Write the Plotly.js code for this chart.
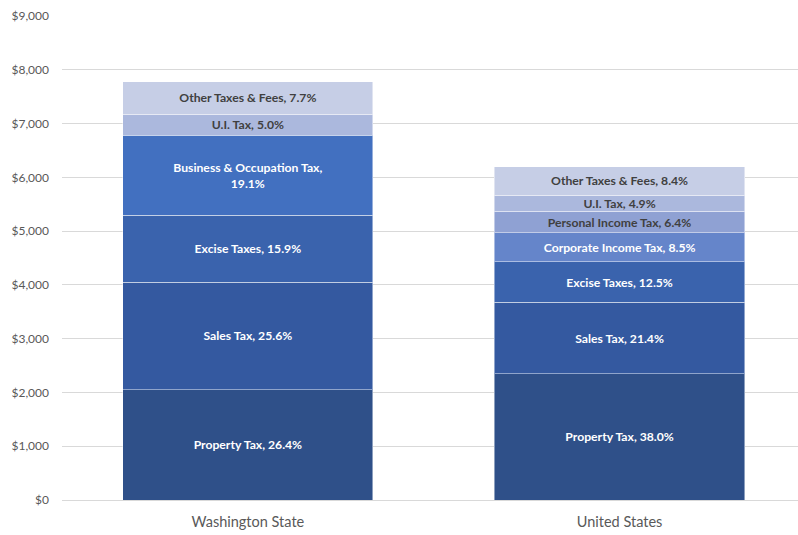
<!DOCTYPE html>
<html><head><meta charset="utf-8">
<script src="https://cdn.plot.ly/plotly-3.0.1.min.js"></script>
<style>html,body{margin:0;padding:0;background:#fff}#chart{width:798px;height:535px}</style>
</head><body><div id="chart"></div>
<script>
const categories = ["Washington State", "United States"];
const seriesNames = ["Property Tax", "Sales Tax", "Excise Taxes", "Business & Occupation Tax", "Corporate Income Tax", "Personal Income Tax", "U.I. Tax", "Other Taxes & Fees"];
const propertyTax = [2050, 2345];
const salesTax = [2000, 1330];
const exciseTaxes = [1245, 755];
const boTax = [1490, null];
const corporateTax = [null, 535];
const personalTax = [null, 405];
const uiTax = [390, 300];
const otherTaxes = [605, 530];
const propertyPct = ["26.4%", "38.0%"];
const salesPct = ["25.6%", "21.4%"];
const excisePct = ["15.9%", "12.5%"];
const boPct = ["19.1%", null];
const corporatePct = [null, "8.5%"];
const personalPct = [null, "6.4%"];
const uiPct = ["5.0%", "4.9%"];
const otherPct = ["7.7%", "8.4%"];

const values = [propertyTax, salesTax, exciseTaxes, boTax, corporateTax, personalTax, uiTax, otherTaxes];
const pcts = [propertyPct, salesPct, excisePct, boPct, corporatePct, personalPct, uiPct, otherPct];
const colors = ["#2F5089", "#3459A0", "#3A63AD", "#4270C0", "#6585CA", "#8FA1D3", "#ABB8DD", "#C6CEE6"];
const textColors = ["#ffffff", "#ffffff", "#ffffff", "#ffffff", "#ffffff", "#404040", "#404040", "#404040"];

const traces = seriesNames.map((name, i) => ({
  type: "bar",
  name: name,
  x: categories,
  y: values[i],
  text: pcts[i].map(p => p == null ? "" : (name === "Business & Occupation Tax" ? name + ",<br>" + p : name + ", " + p)),
  textposition: "inside",
  insidetextanchor: "middle",
  textangle: 0,
  constraintext: "none",
  textfont: {family: "Lato, 'Open Sans', sans-serif", size: 12.2, color: textColors[i], weight: "bold"},
  hoverinfo: "skip",
  marker: {color: colors[i], line: {color: "rgba(255,255,255,0.45)", width: 1}}
}));

const layout = {
  width: 798, height: 535,
  margin: {l: 62, r: 0, t: 16, b: 35},
  barmode: "stack",
  bargap: 0.327,
  showlegend: false,
  plot_bgcolor: "#fff", paper_bgcolor: "#fff",
  font: {family: "Lato, 'Open Sans', sans-serif", color: "#595959"},
  xaxis: {
    range: [-0.5, 1.48],
    showline: true, linecolor: "#d9d9d9", linewidth: 1,
    ticks: "", tickfont: {size: 14.5, color: "#595959"}, ticklabelstandoff: 9
  },
  yaxis: {
    range: [0, 9000], dtick: 1000, tickprefix: "$", separatethousands: true, tickformat: ",.0f",
    showgrid: true, gridcolor: "#d9d9d9", gridwidth: 1, zeroline: false, showline: false,
    tickfont: {size: 12, color: "#595959"}, ticks: "", ticklabelstandoff: 12
  }
};

Plotly.newPlot("chart", traces, layout, {displayModeBar: false, staticPlot: true});
</script></body></html>
